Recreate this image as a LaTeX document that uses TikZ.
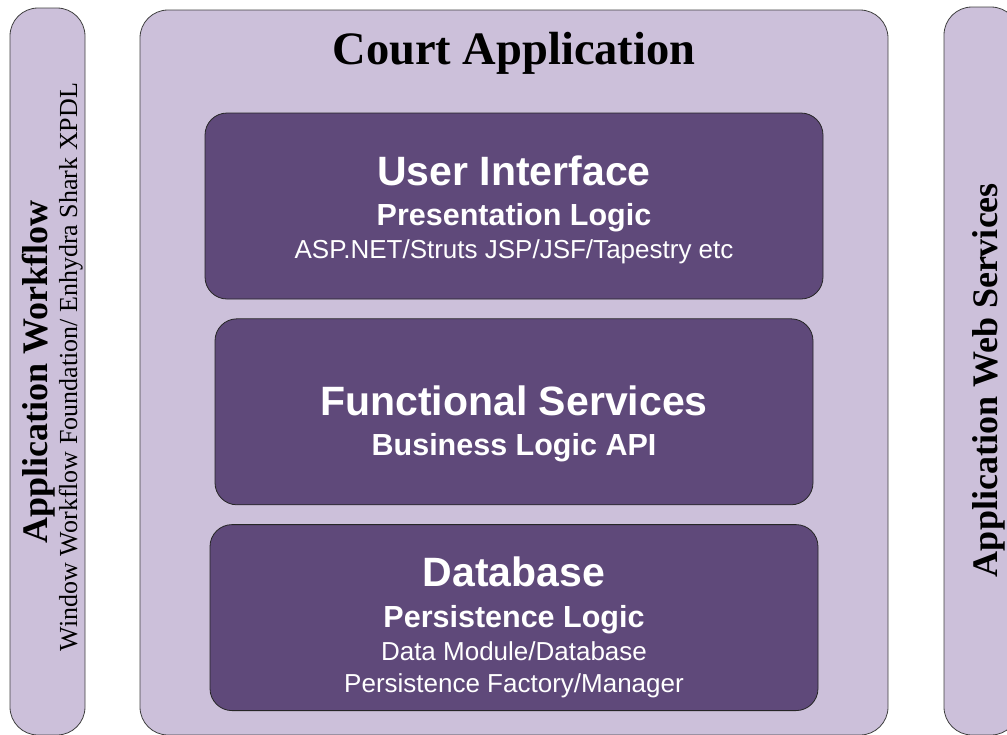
\documentclass[tikz,border=0pt]{standalone}
\usepackage{fontspec}
\setmainfont{Liberation Serif}
\setsansfont{Liberation Sans}
\usetikzlibrary{positioning}
\definecolor{lavender}{HTML}{CCC0DA}
\definecolor{plum}{HTML}{5F497A}
\tikzset{
x=1pt, y=-1pt, % work in page points, y going down
panel/.style={draw=black!75, fill=lavender, line width=0.8pt, rounded corners=28pt, inner sep=0pt}, % outer boxes
layer/.style={draw=black!85, fill=plum, line width=0.8pt, rounded corners=22pt, inner sep=0pt, minimum height=186pt}, % tiers
heading/.style={font=\sffamily\bfseries\fontsize{41}{41}\selectfont, text=white, anchor=base},
subheading/.style={font=\sffamily\bfseries\fontsize{30.5}{30.5}\selectfont, text=white, anchor=base},
detail/.style={font=\sffamily\fontsize{26}{26}\selectfont, text=white, anchor=base},
sidetitle/.style={font=\bfseries\fontsize{36}{36}\selectfont, rotate=90, anchor=base},
sidenote/.style={font=\fontsize{26}{26}\selectfont, rotate=90, anchor=base},
}

\begin{document}
\begin{tikzpicture}
        \useasboundingbox (0,0) rectangle (1007,734);
        \clip (0,0) rectangle (1007,734);

        % side panels and the main application frame
        \node[panel, minimum width=75pt, minimum height=727pt] (workflow) at (47.5,371.5) {};
        \node[panel, minimum width=748pt, minimum height=725pt] (court) at (514,372.5) {};
        \node[panel, minimum width=75pt, minimum height=728pt] (websvc) at (981.5,371) {};

        \node[font=\bfseries\fontsize{46.5}{46.5}\selectfont, anchor=base] (court-title) at (514,64) {Court Application};

        % the three tiers
        \node[layer, minimum width=618pt] (ui) at (514,206) {};
        \node[layer, minimum width=598pt, below=19pt of ui] (fs) {};
        \node[layer, minimum width=608pt, below=19pt of fs] (db) {};

        \node[heading] (ui-head) at (514,185.5) {User Interface};
        \node[subheading] (ui-sub) at (514,225) {Presentation Logic};
        \node[detail] (ui-tech) at (514,258) {ASP.NET/Struts JSP/JSF/Tapestry etc};

        \node[heading] (fs-head) at (514,415.5) {Functional Services};
        \node[subheading] (fs-sub) at (514,455) {Business Logic API};

        \node[heading] (db-head) at (514,586.5) {Database};
        \node[subheading] (db-sub) at (514,627) {Persistence Logic};
        \node[detail] (db-tech1) at (514,660) {Data Module/Database};
        \node[detail] (db-tech2) at (514,692) {Persistence Factory/Manager};

        % rotated captions on the side panels
        \node[sidetitle] (workflow-title) at (47,372) {Application Workflow};
        \node[sidenote] (workflow-note) at (77,367) {Window Workflow Foundation/ Enhydra Shark XPDL};
        \node[sidetitle] (websvc-title) at (997,380) {Application Web Services};
    \end{tikzpicture}
\end{document}
